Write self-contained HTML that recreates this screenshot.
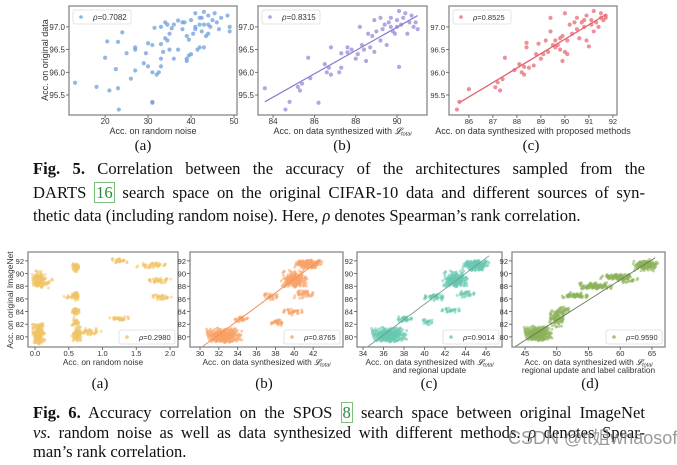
<!DOCTYPE html>
<html><head><meta charset="utf-8">
<style>
html,body{margin:0;padding:0;background:#fff;}
#wrap{position:relative;width:677px;height:465px;overflow:hidden;}
svg{position:absolute;left:0;top:0;}
.cap{position:absolute;left:33px;width:612px;font-family:"Liberation Serif",serif;font-size:16.6px;color:#111;}
.j{display:block;text-align:justify;text-align-last:justify;}
.l{display:block;}
.ref{color:#2a8a3a;border:1px solid #7ec07e;padding:0 1px;}
.wm{position:absolute;left:508px;top:424px;white-space:nowrap;font-family:"Liberation Sans","Noto Sans CJK SC",sans-serif;font-size:18px;color:rgba(120,120,120,0.75);}
</style></head>
<body>
<div id="wrap">
<svg id="chart" width="677" height="465"></svg>
<div class="cap" style="top:157px;line-height:23.5px">
<span class="j"><b>Fig. 5.</b> Correlation between the accuracy of the architectures sampled from the</span>
<span class="j">DARTS <span class="ref">16</span> search space on the original CIFAR-10 data and different sources of syn-</span>
<span class="l">thetic data (including random noise). Here, <i>ρ</i> denotes Spearman’s rank correlation.</span>
</div>
<div class="cap" style="top:403px;line-height:19.7px">
<span class="j"><b>Fig. 6.</b> Accuracy correlation on the SPOS <span class="ref">8</span> search space between original ImageNet</span>
<span class="j"><i>vs.</i> random noise as well as data synthesized with different methods. <i>ρ</i> denotes Spear-</span>
<span class="l">man’s rank correlation.</span>
</div>
<div class="wm">CSDN @tt姐whaosoft</div>
</div>
<script>
// ---------- data ----------
const topA_points = [[13,95.77],[18,95.68],[21,95.6],[23,95.65],[23.2,95.18],[22.5,96.07],[20,96.32],[20.5,96.68],[23,96.67],[24,96.88],[25,96.42],[26,95.86],[27,96.04],[27,96.5],[27,96.55],[29,96.2],[29.5,96.42],[30,96.64],[30,96.13],[31,96.0],[31,95.35],[31,95.33],[31,96.6],[31.5,96.98],[32,95.95],[32.5,96.0],[33,96.13],[33,96.3],[33,96.62],[33,97.0],[33.5,96.45],[34,96.75],[34,97.1],[34.5,97.05],[34.5,96.7],[35,96.5],[35,96.85],[35.5,96.97],[36,96.3],[36,97.05],[37,97.14],[37,96.5],[38,96.95],[38,97.1],[38.5,97.1],[39,96.8],[39,96.3],[39,96.25],[39.5,96.37],[39.5,96.72],[40,96.4],[40,97.15],[40.5,96.85],[41,97.3],[41,96.95],[41.5,96.5],[42,97.2],[42,96.55],[42,97.05],[42.5,97.2],[42.5,96.9],[43,97.33],[43,96.55],[43.5,96.8],[44,97.05],[44,97.25],[44.5,97.0],[45,97.15],[45.5,97.3],[46,97.1],[46.5,96.95],[47,97.2],[48.5,97.25],[49,97.0],[49,96.9],[44,96.85],[43,97.05],[41,97.0]];
const topB_points = [[83.6,95.65],[84.6,95.18],[84.8,95.35],[85.2,95.68],[85.3,95.6],[85.4,95.75],[85.7,96.32],[85.8,95.87],[86.2,95.33],[86.5,96.18],[86.6,96.0],[86.7,96.1],[86.8,95.95],[86.8,96.55],[87.2,96.0],[87.3,96.1],[87.3,96.42],[87.6,96.44],[87.8,96.5],[88.0,96.3],[88.1,96.4],[88.3,96.6],[88.4,96.5],[88.5,96.25],[88.6,96.85],[88.7,96.55],[88.8,96.8],[88.9,97.15],[89.0,96.9],[89.2,96.7],[89.3,96.95],[89.4,97.05],[89.5,96.6],[89.6,97.1],[89.7,97.0],[89.8,96.9],[89.9,96.85],[90.0,97.0],[90.0,97.15],[90.1,97.35],[90.1,96.12],[90.2,97.05],[90.3,97.2],[90.4,97.3],[90.5,96.85],[90.6,97.1],[90.7,97.25],[90.8,97.0],[90.9,97.1],[91.0,96.95],[89.2,97.2],[88.2,97.0],[87.6,96.55],[88.9,96.45],[89.7,97.2]];
const topC_points = [[85.5,95.18],[85.6,95.35],[86.0,95.63],[87.1,95.67],[87.3,95.6],[87.2,95.78],[87.4,95.85],[87.5,96.32],[87.9,96.05],[88.1,96.18],[88.2,96.0],[88.3,95.95],[88.3,96.12],[88.4,96.55],[88.4,96.65],[88.5,96.1],[88.7,96.15],[88.9,96.63],[89.0,96.3],[89.1,96.4],[89.2,96.7],[89.3,96.45],[89.4,96.9],[89.4,97.2],[89.5,96.6],[89.6,96.7],[89.7,96.6],[89.8,96.5],[89.9,96.8],[89.9,96.25],[90.0,97.3],[90.0,96.45],[90.1,96.7],[90.1,96.4],[90.2,97.05],[90.3,96.85],[90.4,97.1],[90.5,96.95],[90.6,96.75],[90.7,97.1],[90.8,97.0],[90.8,97.15],[90.9,96.7],[90.9,97.25],[91.0,96.57],[91.1,97.05],[91.2,97.35],[91.2,96.9],[91.3,97.1],[91.4,97.0],[91.5,97.2],[91.5,97.3],[91.6,97.15],[91.7,97.25],[91.7,97.2],[91.1,97.15],[90.5,97.2],[89.8,96.75],[88.8,96.4],[89.6,96.55]];
const topB_fit = [[83.6,95.35],[91.0,97.25]];
const topC_fit = [[85.6,95.33],[91.7,97.27]];
const topYTicks = [95.5,96.0,96.5,97.0];
const topA_xticks = [20,30,40,50];
const topB_xticks = [84,86,88,90];
const topC_xticks = [86,87,88,89,90,91,92];
const topRho = ["0.7082","0.8315","0.8525"];
// bottom clusters: [cx, cy, sx, sy, count]
const botA_clusters = [[0.05,89,0.06,0.9,120],[0.05,80.5,0.06,1.1,150],[0.16,88.6,0.08,0.6,20],[0.6,91,0.04,0.45,40],[0.6,86.5,0.04,0.45,40],[0.6,84,0.035,0.45,35],[0.6,82.3,0.035,0.45,30],[0.62,80.3,0.05,0.8,60],[0.8,80.8,0.12,0.4,40],[1.25,92,0.08,0.25,25],[1.25,82.9,0.1,0.22,30],[1.75,91.3,0.15,0.28,40],[1.82,88.9,0.12,0.28,35],[1.87,86.3,0.1,0.28,30],[0.5,86.3,0.06,0.2,8]];
const botB_clusters = [[32.5,80.2,1.2,0.75,280],[34.3,82.8,0.6,0.3,25],[37.5,86.4,0.6,0.35,30],[38.2,82.3,0.5,0.35,30],[39.8,84,0.7,0.35,30],[40,89,0.9,0.9,180],[41.5,91.5,0.9,0.45,140],[41,86.8,0.7,0.45,40]];
const botC_clusters = [[36.5,80.3,1.1,0.75,280],[38,82.8,0.6,0.3,30],[40.3,82.4,0.4,0.3,20],[41,86.3,0.8,0.35,40],[42.5,84.2,0.6,0.3,25],[43,89,0.8,0.85,180],[45,91.3,0.8,0.55,140],[44,86.8,0.6,0.35,30]];
const botD_clusters = [[47,80.5,1.4,0.75,280],[50,83,0.9,0.9,90],[51,84.2,0.6,0.45,30],[53,86.5,1.4,0.3,60],[56,88,1.8,0.35,110],[59.5,89.5,1.6,0.28,90],[61,89,1.1,0.28,30],[64,91.3,1.2,0.55,140]];
const botB_fit = [[30.3,78.5],[42.8,92.2]];
const botC_fit = [[34.5,78.5],[46.3,92.8]];
const botD_fit = [[43.5,78.5],[65.5,92.5]];
const botYTicks = [80,82,84,86,88,90,92];
const botA_xticks = [0.0,0.5,1.0,1.5,2.0];
const botB_xticks = [30,32,34,36,38,40,42];
const botC_xticks = [34,36,38,40,42,44,46];
const botD_xticks = [45,50,55,60,65];
const botRho = ["0.2980","0.8765","0.9014","0.9590"];

// ---------- rendering ----------
const NS="http://www.w3.org/2000/svg";
const svg=document.getElementById('chart');
function mk(tag,attrs,parent){const e=document.createElementNS(NS,tag);for(const k in attrs)e.setAttribute(k,attrs[k]);(parent||svg).appendChild(e);return e;}
function txt(s,x,y,size,anchor,parent,extra){const t=mk('text',Object.assign({x:x,y:y,'font-size':size,'text-anchor':anchor||'middle','font-family':'"Liberation Sans",sans-serif',fill:'#333'},extra||{}),parent);t.textContent=s;return t;}
function scale(d0,d1,r0,r1){return v=>r0+(v-d0)/(d1-d0)*(r1-r0);}
function fmt(v,dec){return v.toFixed(dec);}
const LT='<tspan font-family="Liberation Serif,serif" font-style="italic">𝓛</tspan><tspan font-size="5.5" font-style="italic" dy="1.5">total</tspan>';

function panel(cfg){
  const g=mk('g',{});
  
  
  const X=scale(cfg.xd[0],cfg.xd[1],cfg.L,cfg.R), Y=scale(cfg.yd[0],cfg.yd[1],cfg.B,cfg.T);
  const pg=mk('g',{},g);
  
  
  cfg.points.forEach(p=>{
    const c=mk('circle',{cx:X(p[0]),cy:Y(p[1]),r:cfg.r,fill:cfg.color,'fill-opacity':cfg.op},pg);
    
    
  });
  if(cfg.fit){
    const l=mk('line',{x1:X(cfg.fit[0][0]),y1:Y(cfg.fit[0][1]),x2:X(cfg.fit[1][0]),y2:Y(cfg.fit[1][1]),stroke:cfg.fitColor,'stroke-width':cfg.fitW},g);
    
    
  }
  const r=mk('rect',{x:cfg.L,y:cfg.T,width:cfg.R-cfg.L,height:cfg.B-cfg.T,fill:'none',stroke:'#888','stroke-width':1.3},g);
  
  
  cfg.xticks.forEach(v=>{
    mk('line',{x1:X(v),x2:X(v),y1:cfg.B,y2:cfg.B+3,stroke:'#555','stroke-width':0.8},g);
    const t=txt(fmt(v,cfg.xdec),X(v),cfg.B+cfg.tickDy,cfg.tick,'middle',g);
    
    
  });
  cfg.yticks.forEach(v=>{
    mk('line',{x1:cfg.L-3,x2:cfg.L,y1:Y(v),y2:Y(v),stroke:'#555','stroke-width':0.8},g);
    const t=txt(fmt(v,cfg.ydec),cfg.L-4,Y(v)+3,cfg.tick,'end',g);
    
    
  });
  cfg.xlabel.forEach((s,i)=>{
    const t=mk('text',{x:(cfg.L+cfg.R)/2,y:cfg.B+cfg.labDy+i*8,'font-size':cfg.lab,'text-anchor':'middle','font-family':'"Liberation Sans",sans-serif',fill:'#333'},g);
    t.innerHTML=s;
    
    
  });
  const lg=mk('g',{},g);
  
  
  const lx=cfg.legPos==='tl'?cfg.L+4:cfg.R-cfg.legW-3;
  const ly=cfg.legPos==='tl'?cfg.T+4:cfg.B-17;
  mk('rect',{x:lx,y:ly,width:cfg.legW,height:14,rx:2,fill:'#fff','fill-opacity':0.85,stroke:'#ddd','stroke-width':0.8},lg);
  mk('circle',{cx:lx+8,cy:ly+7,r:1.8,fill:cfg.color,'fill-opacity':0.8},lg);
  const lt=mk('text',{x:lx+20,y:ly+10,'font-size':cfg.tick,'font-family':'"Liberation Sans",sans-serif',fill:'#333'},lg);
  lt.innerHTML='<tspan font-style="italic">ρ</tspan>='+cfg.rho;
  
  
  const sl=mk('text',{x:cfg.subX,y:cfg.subY,'font-size':15,'text-anchor':'middle','font-family':'"Liberation Serif",serif',fill:'#111'},svg);
  sl.textContent=cfg.sub;
  
  
}
function expand(clusters){
  const out=[];let k=0;
  clusters.forEach(c=>{
    for(let i=0;i<c[4];i++){k++;
      const u=((k*0.6180339)%1), v=((k*0.7548776)%1), w=((k*0.5698403)%1);
      const gx=(u+w-1)*1.7, gy=(v+((k*0.4142135)%1)-1)*1.7;
      out.push([c[0]+gx*c[2], c[1]+gy*c[3]]);
    }
  });
  return out;
}
const T1=6,B1=115;
const topCommon={T:T1,B:B1,yd:[95.06,97.46],op:0.75,r:2.1,yticks:topYTicks,xdec:0,ydec:1,tick:8,lab:9,tickDy:9,labDy:19,legPos:'tl',legW:58,subY:150};
panel(Object.assign({},topCommon,{name:'fig5a-noise',L:69,R:237,xd:[11.6,50.7],points:topA_points,color:'#6f9fdc',xticks:topA_xticks,xlabel:['Acc. on random noise'],rho:topRho[0],sub:'(a)',subX:143}));
panel(Object.assign({},topCommon,{name:'fig5b-ltotal',L:258,R:427,xd:[83.27,91.45],points:topB_points,fit:topB_fit,fitColor:'#8b7fd2',fitW:1.3,color:'#9a8ad8',xticks:topB_xticks,xlabel:['Acc. on data synthesized with '+LT],rho:topRho[1],sub:'(b)',subX:342}));
panel(Object.assign({},topCommon,{name:'fig5c-proposed',L:449,R:617,xd:[85.17,92.17],points:topC_points,fit:topC_fit,fitColor:'#e2626c',fitW:1.3,color:'#e86b75',xticks:topC_xticks,tick:7.5,xlabel:['Acc. on data synthesized with proposed methods'],rho:topRho[2],sub:'(c)',subX:531}));
const T2=252,B2=347;
const botCommon={T:T2,B:B2,yd:[78.4,93.4],op:0.55,r:1.5,yticks:botYTicks,xdec:0,ydec:0,tick:7.5,lab:8.3,tickDy:9,labDy:18,legPos:'br',legW:56,subY:388};
panel(Object.assign({},botCommon,{name:'fig6a-noise',L:28,R:178,xd:[-0.104,2.118],points:expand(botA_clusters),color:'#f0c264',xticks:botA_xticks,xdec:1,xlabel:['Acc. on random noise'],rho:botRho[0],sub:'(a)',subX:100}));
panel(Object.assign({},botCommon,{name:'fig6b-ltotal',L:190,R:343,xd:[28.94,45.17],points:expand(botB_clusters),fit:botB_fit,fitColor:'#f0905a',fitW:1,color:'#f7a268',xticks:botB_xticks,xlabel:['Acc. on data synthesized with '+LT],rho:botRho[1],sub:'(b)',subX:264}));
panel(Object.assign({},botCommon,{name:'fig6c-regional',L:357,R:502,xd:[33.41,47.56],points:expand(botC_clusters),fit:botC_fit,fitColor:'#6a9c8c',fitW:0.9,color:'#68c8b0',xticks:botC_xticks,xlabel:['Acc. on data synthesized with '+LT,'and regional update'],rho:botRho[2],sub:'(c)',subX:429}));
panel(Object.assign({},botCommon,{name:'fig6d-calibration',L:512,R:665,xd:[42.95,67.05],points:expand(botD_clusters),fit:botD_fit,fitColor:'#5f7a50',fitW:0.9,color:'#8cb35a',xticks:botD_xticks,xlabel:['Acc. on data synthesized with '+LT,'regional update and label calibration'],rho:botRho[3],sub:'(d)',subX:590}));
const y1=txt('Acc. on original data',0,0,9,'middle',svg,{transform:'translate(48,60) rotate(-90)'});


const y2=txt('Acc. on original ImageNet',0,0,8.5,'middle',svg,{transform:'translate(13,300) rotate(-90)'});


</script>
</body></html>
